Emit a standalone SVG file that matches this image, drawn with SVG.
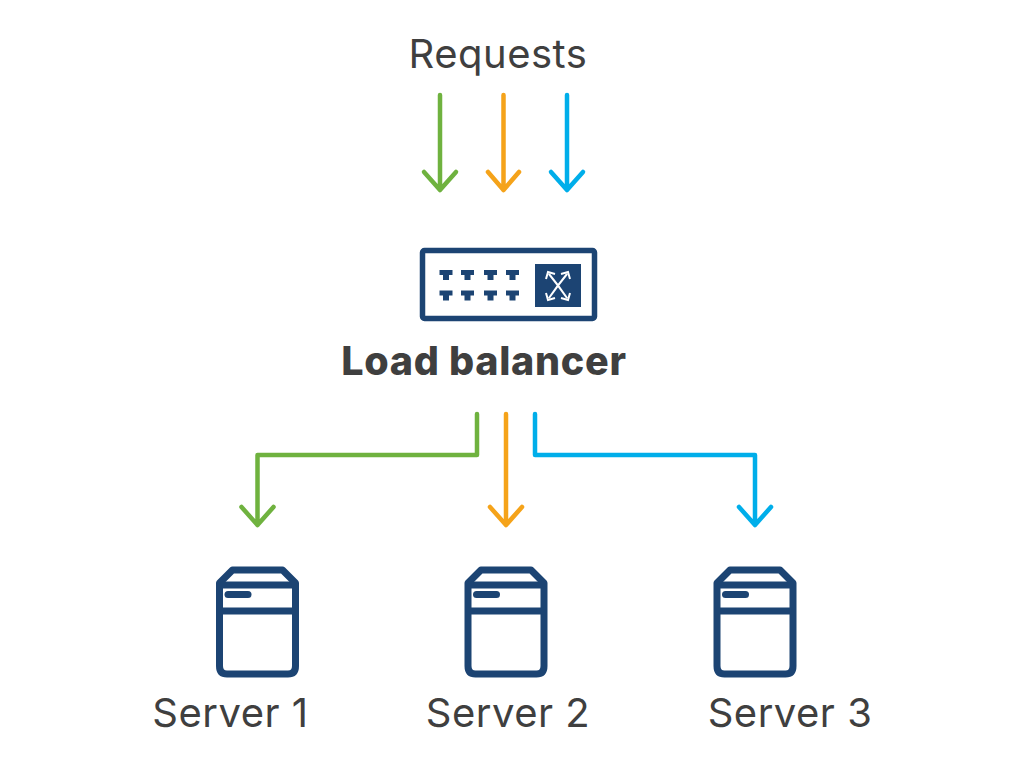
<svg xmlns="http://www.w3.org/2000/svg" width="1015" height="780" viewBox="0 0 1015 780">
<style>
.t{font-family:"Inter","Liberation Sans",sans-serif;font-size:40px;letter-spacing:.5px;fill:#3f3f3f;text-anchor:middle}
.b{font-weight:800;font-size:39.500px;letter-spacing:.7px}
.c{fill:none;stroke-width:4.500;stroke-linecap:round;stroke-linejoin:round}
.g{stroke:#6fb23f}.o{stroke:#f5a31a}.l{stroke:#00aeea}
.n{fill:none;stroke:#1c4473;stroke-width:7;stroke-linejoin:round}
.f{fill:#1c4473}
</style>
<defs>
<g id="srv">
<path class="n" d="M-38 13V96Q-38 104-30.500 104H30.500Q38 104 38 96V13L25 0H-25Z"/>
<path class="n" d="M-38 15H38M-38 41H38"/>
<rect class="f" x="-33" y="21" width="27" height="7" rx="3.500"/>
</g>
<path id="port" class="f" d="M-6.500 0H6.500V5H3V10H-3V5H-6.500Z"/>
</defs>
<rect width="1015" height="780" fill="#fff"/>
<g id="connectors">
<path class="c g" d="M440 95V190M424 172L440 190L456 172"/>
<path class="c o" d="M503.500 95V190M488 172L503.500 190L519 172"/>
<path class="c l" d="M567 95V190M551 172L567 190L583 172"/>
<path class="c g" d="M477 414V455H257.500V525M241.500 507L257.500 525L273.500 507"/>
<path class="c o" d="M506 414V525M490 507L506 525L522 507"/>
<path class="c l" d="M535 414V455H755V525M739 507L755 525L771 507"/>
</g>
<g id="requests"><text class="t" x="498" y="68">Requests</text></g>
<g id="load-balancer">
<rect x="422.500" y="250.500" width="172" height="68" rx="2" fill="none" stroke="#1c4473" stroke-width="5.500"/>
<use href="#port" x="446" y="270"/><use href="#port" x="467.500" y="270"/><use href="#port" x="490.500" y="270"/><use href="#port" x="512.500" y="270"/>
<use href="#port" x="446" y="290.500"/><use href="#port" x="467.500" y="290.500"/><use href="#port" x="490.500" y="290.500"/><use href="#port" x="512.500" y="290.500"/>
<rect class="f" x="535" y="264" width="46" height="43"/>
<path d="M549 274Q558 285 567 298M567 274Q558 285 549 298M546 279L548 272L555 274M570 279L568 272L561 274M546 293L548 300L555 298M570 293L568 300L561 298" fill="none" stroke="#fff" stroke-width="2"/>
<text class="t b" x="484" y="375">Load balancer</text>
</g>
<g id="server-1"><use href="#srv" x="257.500" y="570"/><text class="t" x="230.500" y="727">Server 1</text></g>
<g id="server-2"><use href="#srv" x="506" y="570"/><text class="t" x="508" y="727">Server 2</text></g>
<g id="server-3"><use href="#srv" x="755" y="570"/><text class="t" x="790" y="727">Server 3</text></g>
</svg>
